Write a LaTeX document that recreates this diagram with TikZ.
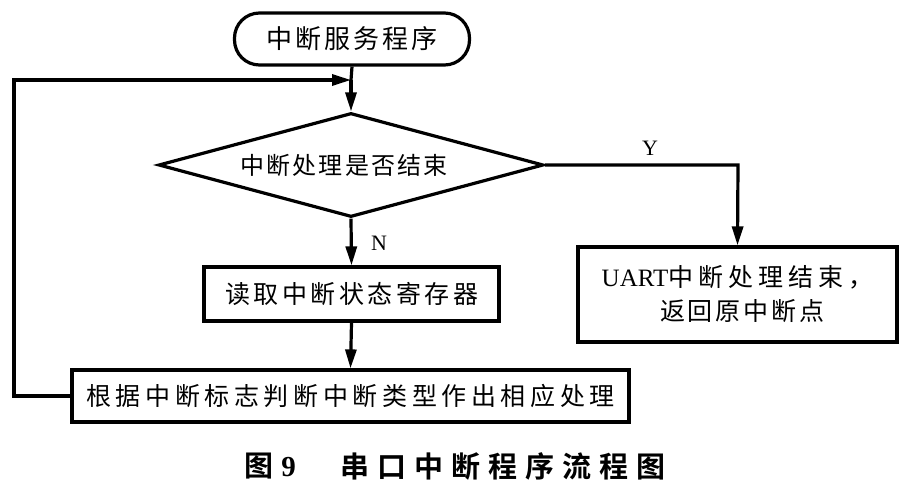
\documentclass[tikz,border=0pt]{standalone}
\usepackage{fontspec}
\setmainfont{Liberation Serif}
\newfontfamily\cjkS[LetterSpace=11]{Noto Sans CJK SC}
\newfontfamily\cjkD[LetterSpace=9]{Noto Sans CJK SC}
\newfontfamily\cjkR[LetterSpace=14]{Noto Sans CJK SC}
\newfontfamily\cjkB[LetterSpace=18.5]{Noto Sans CJK SC}
\newfontfamily\cjkU[LetterSpace=20]{Noto Sans CJK SC}
\newfontfamily\cjkV[LetterSpace=12]{Noto Sans CJK SC}
\newfontfamily\cjkC[LetterSpace=28]{Noto Sans CJK SC Bold}
\usetikzlibrary{shapes.geometric,arrows.meta}
\begin{document}
\begin{tikzpicture}[x=1pt,y=1pt,
  line/.style={line width=3.2pt,line join=miter},
  arr/.style={line,-{Triangle[length=19pt,width=11pt]}},
  boxnode/.style={draw,line width=3.2pt,rectangle,inner sep=0pt},
  termnode/.style={draw,line width=3.2pt,rectangle,rounded corners=25pt,inner sep=0pt},
  decnode/.style={draw,line width=3.2pt,diamond,aspect=3.7,inner sep=0pt},
  lbl/.style={font=\fontsize{22}{24}\selectfont}]
\useasboundingbox[fill=white] (0,0) rectangle (914,-500);

\node[termnode,minimum width=235pt,minimum height=52pt] (start) at (352,-39)
  {\fontsize{26}{28}\selectfont\cjkS 中断服务程序};
\node[decnode,minimum width=385pt,minimum height=104pt] (dec) at (351,-165)
  {\fontsize{24}{26}\selectfont\cjkD 中断处理是否结束\hspace*{14pt}};
\node[boxnode,minimum width=295pt,minimum height=54pt] (read) at (351.5,-294)
  {\fontsize{25}{27}\selectfont\cjkR 读取中断状态寄存器};
\node[boxnode,minimum width=557pt,minimum height=52pt] (proc) at (350.5,-396)
  {\fontsize{25}{27}\selectfont\cjkB 根据中断标志判断中断类型作出相应处理};
\node[boxnode,minimum width=319pt,minimum height=95pt,align=center,
  font=\fontsize{25}{36}\selectfont] (uart) at (737.5,-294.5)
  {UART{\cjkU 中断处理结束，}\\[-2pt] \hspace*{10pt}{\cjkV 返回原中断点}};

\coordinate (j) at (351,-80);
\coordinate (lb) at (14,-396);
\coordinate (lt) at (14,-80);
\coordinate (yc) at (738,-165);

\draw[line] (start.south) -- (j);
\draw[arr] (j) -- (dec.north);
\draw[arr] (dec.south) -- (read.north);
\draw[arr] (read.south) -- (proc.north);
\draw[arr] (dec.east) -- (yc) -- (uart.north);
\draw[arr] (proc.west) -- (lb) -- (lt) -- (j);

\node[lbl] (ylab) at (650,-148) {Y};
\node[lbl] (nlab) at (379,-243) {N};

\node (cap1) at (270,-466) {\fontsize{29}{31}\selectfont{\cjkC 图}\textbf{9}};
\node (cap2) at (503,-466) {\fontsize{29}{31}\selectfont\cjkC 串口中断程序流程图};
\end{tikzpicture}
\end{document}
